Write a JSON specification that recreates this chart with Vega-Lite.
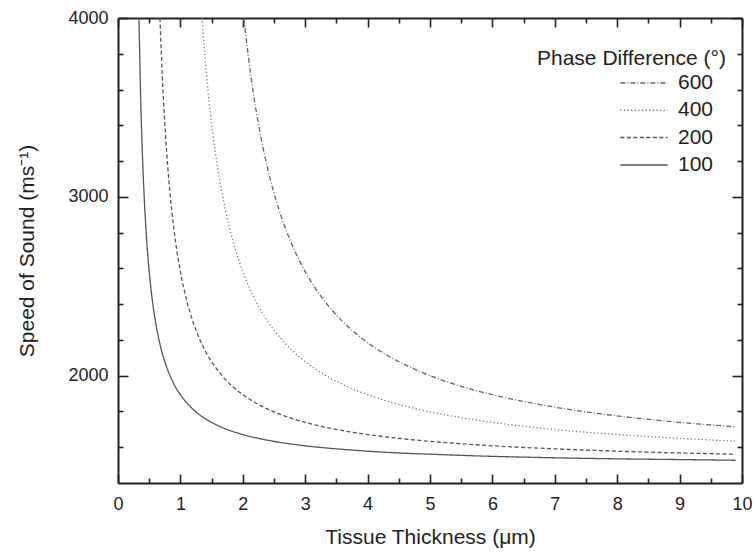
{
  "$schema": "https://vega.github.io/schema/vega-lite/v6.json",
  "width": 624,
  "height": 465,
  "autosize": {"type": "none"},
  "padding": {"left": 118, "top": 18, "right": 12, "bottom": 70},
  "background": "white",
  "config": {"view": {"stroke": null}, "font": "Liberation Sans"},
  "data": {"values": [
    {"phase":"100","d":0.336,"c":4000},{"phase":"100","d":0.36,"c":3600},{"phase":"100","d":0.38,"c":3352},{"phase":"100","d":0.4,"c":3156},{"phase":"100","d":0.43,"c":2929},{"phase":"100","d":0.46,"c":2756},{"phase":"100","d":0.5,"c":2582},{"phase":"100","d":0.55,"c":2422},{"phase":"100","d":0.6,"c":2303},{"phase":"100","d":0.65,"c":2211},{"phase":"100","d":0.7,"c":2138},{"phase":"100","d":0.8,"c":2029},{"phase":"100","d":0.9,"c":1951},{"phase":"100","d":1.0,"c":1894},{"phase":"100","d":1.1,"c":1849},{"phase":"100","d":1.2,"c":1813},{"phase":"100","d":1.35,"c":1771},{"phase":"100","d":1.5,"c":1739},{"phase":"100","d":1.7,"c":1706},{"phase":"100","d":2.0,"c":1671},{"phase":"100","d":2.3,"c":1646},{"phase":"100","d":2.6,"c":1627},{"phase":"100","d":3.0,"c":1608},{"phase":"100","d":3.5,"c":1591},{"phase":"100","d":4.0,"c":1578},{"phase":"100","d":4.5,"c":1568},{"phase":"100","d":5.0,"c":1561},{"phase":"100","d":6.0,"c":1549},{"phase":"100","d":7.0,"c":1541},{"phase":"100","d":8.0,"c":1535},{"phase":"100","d":9.0,"c":1531},{"phase":"100","d":9.9,"c":1527},
    {"phase":"200","d":0.672,"c":4000},{"phase":"200","d":0.72,"c":3600},{"phase":"200","d":0.76,"c":3352},{"phase":"200","d":0.8,"c":3156},{"phase":"200","d":0.86,"c":2929},{"phase":"200","d":0.92,"c":2756},{"phase":"200","d":1.0,"c":2582},{"phase":"200","d":1.1,"c":2422},{"phase":"200","d":1.2,"c":2303},{"phase":"200","d":1.3,"c":2211},{"phase":"200","d":1.4,"c":2138},{"phase":"200","d":1.6,"c":2029},{"phase":"200","d":1.8,"c":1951},{"phase":"200","d":2.0,"c":1894},{"phase":"200","d":2.2,"c":1849},{"phase":"200","d":2.4,"c":1813},{"phase":"200","d":2.7,"c":1771},{"phase":"200","d":3.0,"c":1739},{"phase":"200","d":3.4,"c":1706},{"phase":"200","d":4.0,"c":1671},{"phase":"200","d":4.6,"c":1646},{"phase":"200","d":5.2,"c":1627},{"phase":"200","d":6.0,"c":1608},{"phase":"200","d":7.0,"c":1591},{"phase":"200","d":8.0,"c":1578},{"phase":"200","d":9.0,"c":1568},{"phase":"200","d":9.9,"c":1561},
    {"phase":"400","d":1.344,"c":4000},{"phase":"400","d":1.44,"c":3600},{"phase":"400","d":1.52,"c":3352},{"phase":"400","d":1.6,"c":3156},{"phase":"400","d":1.72,"c":2929},{"phase":"400","d":1.84,"c":2756},{"phase":"400","d":2.0,"c":2582},{"phase":"400","d":2.2,"c":2422},{"phase":"400","d":2.4,"c":2303},{"phase":"400","d":2.6,"c":2211},{"phase":"400","d":2.8,"c":2138},{"phase":"400","d":3.2,"c":2029},{"phase":"400","d":3.6,"c":1951},{"phase":"400","d":4.0,"c":1894},{"phase":"400","d":4.4,"c":1849},{"phase":"400","d":4.8,"c":1813},{"phase":"400","d":5.4,"c":1771},{"phase":"400","d":6.0,"c":1739},{"phase":"400","d":6.8,"c":1706},{"phase":"400","d":8.0,"c":1671},{"phase":"400","d":9.2,"c":1646},{"phase":"400","d":9.9,"c":1634},
    {"phase":"600","d":2.016,"c":4000},{"phase":"600","d":2.16,"c":3600},{"phase":"600","d":2.28,"c":3352},{"phase":"600","d":2.4,"c":3156},{"phase":"600","d":2.58,"c":2929},{"phase":"600","d":2.76,"c":2756},{"phase":"600","d":3.0,"c":2582},{"phase":"600","d":3.3,"c":2422},{"phase":"600","d":3.6,"c":2303},{"phase":"600","d":3.9,"c":2211},{"phase":"600","d":4.2,"c":2138},{"phase":"600","d":4.8,"c":2029},{"phase":"600","d":5.4,"c":1951},{"phase":"600","d":6.0,"c":1894},{"phase":"600","d":6.6,"c":1849},{"phase":"600","d":7.2,"c":1813},{"phase":"600","d":8.1,"c":1771},{"phase":"600","d":9.0,"c":1739},{"phase":"600","d":9.9,"c":1714}
  ]},
  "layer": [
    {
      "mark": {"type": "line", "strokeWidth": 1.3, "interpolate": "monotone", "clip": true},
      "encoding": {
        "x": {"field": "d", "type": "quantitative", "scale": {"domain": [0, 10], "nice": false, "zero": false},
          "axis": {"orient": "bottom", "values": [0,1,2,3,4,5,6,7,8,9,10], "format": "d",
            "ticks": false, "tickSize": 0, "domainColor": "#222", "domainWidth": 2,
            "labelFont": "Liberation Sans", "labelFontSize": 18, "labelColor": "#222", "labelPadding": 12,
            "labelFlush": false, "labelOverlap": false, "grid": false,
            "title": "Tissue Thickness (μm)", "titleFont": "Liberation Sans", "titleFontSize": 21, "titleFontWeight": "normal", "titleColor": "#222", "titlePadding": 13}},
        "y": {"field": "c", "type": "quantitative", "scale": {"domain": [1400, 4000], "nice": false, "zero": false},
          "axis": {"orient": "left", "values": [2000, 3000, 4000], "format": "d",
            "ticks": false, "tickSize": 0, "domainColor": "#222", "domainWidth": 2,
            "labelFont": "Liberation Sans", "labelFontSize": 18, "labelColor": "#222", "labelPadding": 10,
            "labelFlush": false, "labelOverlap": false, "grid": false,
            "title": "Speed of Sound (ms⁻¹)", "titleFont": "Liberation Sans", "titleFontSize": 21, "titleFontWeight": "normal", "titleColor": "#222", "titlePadding": 30}},
        "strokeDash": {"field": "phase", "type": "nominal",
          "scale": {"domain": ["600", "400", "200", "100"], "range": [[5, 2, 1, 2], [1.2, 2.4], [4, 2.5], [1, 0]]},
          "legend": {"orient": "none", "legendX": 419, "legendY": 30, "title": "Phase Difference (°)", "titleLimit": 400,
            "titleFont": "Liberation Sans", "titleFontSize": 21, "titleFontWeight": "normal", "titleColor": "#222", "titlePadding": 2,
            "labelFont": "Liberation Sans", "labelFontSize": 21, "labelColor": "#222", "labelOffset": 22,
            "symbolType": "M-2.15,0L2.15,0", "symbolSize": 484, "symbolStrokeWidth": 1.5, "rowPadding": 5.3, "padding": 0,
            "encode": {"title": {"update": {"dx": {"value": -95}}}}}},
        "color": {"field": "phase", "type": "nominal",
          "scale": {"domain": ["600", "400", "200", "100"], "range": ["#666666", "#777777", "#555555", "#555555"]},
          "legend": {"orient": "none", "legendX": 419, "legendY": 30, "title": "Phase Difference (°)", "titleLimit": 400,
            "titleFont": "Liberation Sans", "titleFontSize": 21, "titleFontWeight": "normal", "titleColor": "#222", "titlePadding": 2,
            "labelFont": "Liberation Sans", "labelFontSize": 21, "labelColor": "#222", "labelOffset": 22,
            "symbolType": "M-2.15,0L2.15,0", "symbolSize": 484, "symbolStrokeWidth": 1.5, "rowPadding": 5.3, "padding": 0,
            "encode": {"title": {"update": {"dx": {"value": -95}}}}}}
      }
    },
    {
      "mark": {"type": "line", "opacity": 0, "strokeOpacity": 0},
      "encoding": {
        "x": {"field": "d", "type": "quantitative",
          "axis": {"orient": "top", "values": [0,1,2,3,4,5,6,7,8,9,10], "labels": false, "title": null, "grid": false,
            "ticks": false, "tickSize": 0, "domainColor": "#222", "domainWidth": 2}},
        "y": {"field": "c", "type": "quantitative",
          "axis": {"orient": "right", "values": [2000, 3000, 4000], "labels": false, "title": null, "grid": false,
            "ticks": false, "tickSize": 0, "domainColor": "#222", "domainWidth": 2}},
        "detail": {"field": "phase", "type": "nominal"}
      }
    },
    {
      "mark": {"type": "line", "opacity": 0, "strokeOpacity": 0},
      "encoding": {
        "x": {"field": "d", "type": "quantitative",
          "axis": {"orient": "bottom", "offset": -9, "values": [0,1,2,3,4,5,6,7,8,9,10], "labels": false, "title": null, "grid": false, "domain": false,
            "tickSize": 9, "tickWidth": 1.6, "tickColor": "#222"}},
        "y": {"field": "c", "type": "quantitative",
          "axis": {"orient": "left", "offset": -10, "values": [2000, 3000, 4000], "labels": false, "title": null, "grid": false, "domain": false,
            "tickSize": 10, "tickWidth": 1.6, "tickColor": "#222"}},
        "detail": {"field": "phase", "type": "nominal"}
      }
    },
    {
      "mark": {"type": "line", "opacity": 0, "strokeOpacity": 0},
      "encoding": {
        "x": {"field": "d", "type": "quantitative",
          "axis": {"orient": "bottom", "offset": -5, "values": [0.5,1.5,2.5,3.5,4.5,5.5,6.5,7.5,8.5,9.5], "labels": false, "title": null, "grid": false, "domain": false,
            "tickSize": 5, "tickWidth": 1.6, "tickColor": "#222"}},
        "y": {"field": "c", "type": "quantitative",
          "axis": {"orient": "left", "offset": -5, "values": [1600,1800,2200,2400,2600,2800,3200,3400,3600,3800], "labels": false, "title": null, "grid": false, "domain": false,
            "tickSize": 5, "tickWidth": 1.6, "tickColor": "#222"}},
        "detail": {"field": "phase", "type": "nominal"}
      }
    },
    {
      "mark": {"type": "line", "opacity": 0, "strokeOpacity": 0},
      "encoding": {
        "x": {"field": "d", "type": "quantitative",
          "axis": {"orient": "top", "offset": -9, "values": [0,1,2,3,4,5,6,7,8,9,10], "labels": false, "title": null, "grid": false, "domain": false,
            "tickSize": 9, "tickWidth": 1.6, "tickColor": "#222"}},
        "y": {"field": "c", "type": "quantitative",
          "axis": {"orient": "right", "offset": -10, "values": [2000, 3000, 4000], "labels": false, "title": null, "grid": false, "domain": false,
            "tickSize": 10, "tickWidth": 1.6, "tickColor": "#222"}},
        "detail": {"field": "phase", "type": "nominal"}
      }
    },
    {
      "mark": {"type": "line", "opacity": 0, "strokeOpacity": 0},
      "encoding": {
        "x": {"field": "d", "type": "quantitative",
          "axis": {"orient": "top", "offset": -5, "values": [0.5,1.5,2.5,3.5,4.5,5.5,6.5,7.5,8.5,9.5], "labels": false, "title": null, "grid": false, "domain": false,
            "tickSize": 5, "tickWidth": 1.6, "tickColor": "#222"}},
        "y": {"field": "c", "type": "quantitative",
          "axis": {"orient": "right", "offset": -5, "values": [1600,1800,2200,2400,2600,2800,3200,3400,3600,3800], "labels": false, "title": null, "grid": false, "domain": false,
            "tickSize": 5, "tickWidth": 1.6, "tickColor": "#222"}},
        "detail": {"field": "phase", "type": "nominal"}
      }
    }
  ],
  "resolve": {"axis": {"x": "independent", "y": "independent"}}
}
